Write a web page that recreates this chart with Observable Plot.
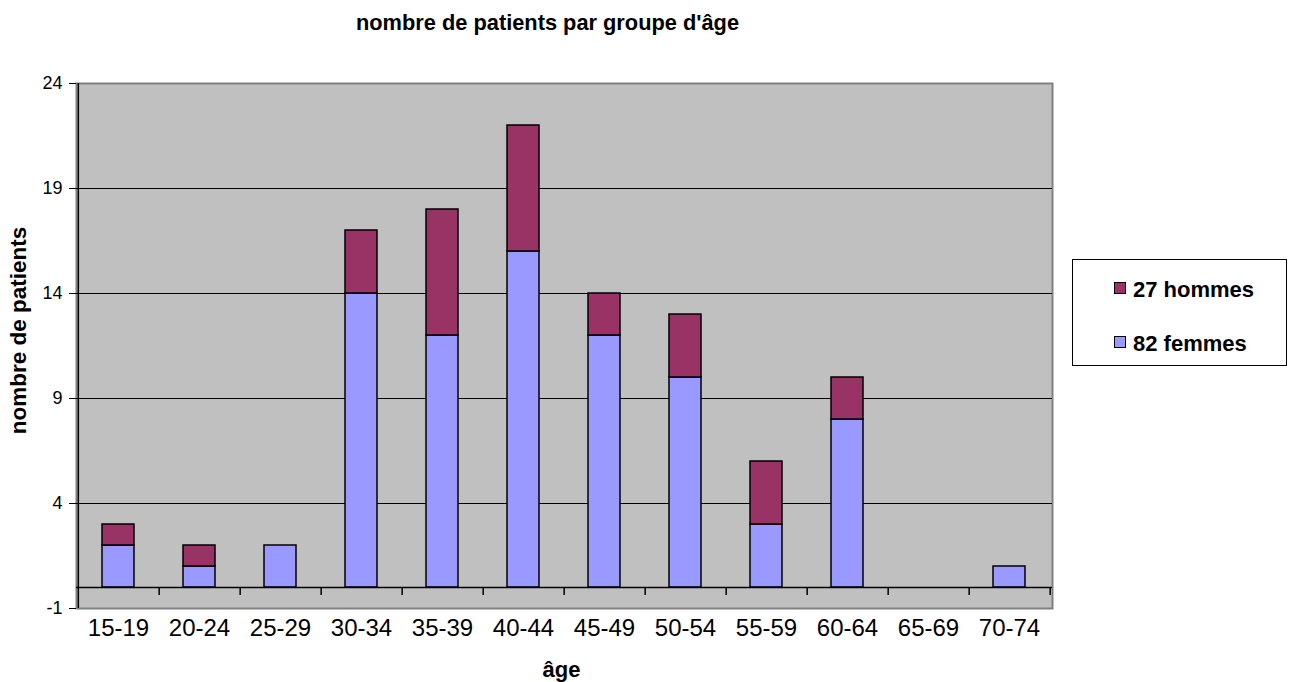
<!DOCTYPE html>
<html>
<head>
<meta charset="utf-8">
<script src="https://cdn.jsdelivr.net/npm/d3@7"></script>
<script src="https://cdn.jsdelivr.net/npm/@observablehq/plot@0.6"></script>
<style>
  body { margin: 0; background: #fff; font-family: "Liberation Sans", Arial, sans-serif; }
  #wrap { position: relative; width: 1295px; height: 682px; }
  #title { position: absolute; left: 0; width: 1095px; top: 10px; text-align: center; font-weight: bold; font-size: 21.8px; line-height: 25px; color: #000; white-space: nowrap; }
  #legendbox { position: absolute; left: 1072px; top: 259px; width: 213px; height: 105px; border: 1.5px solid #000; background: #fff; }
  .lt { position: absolute; left: 1133px; font-weight: bold; font-size: 22px; line-height: 25px; color: #000; white-space: nowrap; }
  .sw { position: absolute; left: 1114px; width: 10px; height: 10px; border: 1.5px solid #000; }
</style>
</head>
<body>
<div id="wrap">
  <div id="title">nombre de patients par groupe d'âge</div>
  <div id="chart"></div>
  <div id="legendbox"></div>
</div>
<script>
const categories = ["15-19","20-24","25-29","30-34","35-39","40-44","45-49","50-54","55-59","60-64","65-69","70-74"];
const femmes = [2, 1, 2, 14, 12, 16, 12, 10, 3, 8, 0, 1];
const hommes = [1, 1, 0, 3, 6, 6, 2, 3, 3, 2, 0, 0];
const seriesNames = ["82 femmes", "27 hommes"];
const seriesColors = ["#9999FF", "#993366"];
const yTicks = [-1, 4, 9, 14, 19, 24];

const rows = [];
categories.forEach((c, i) => rows.push({age: c, serie: seriesNames[0], n: femmes[i]}));
categories.forEach((c, i) => rows.push({age: c, serie: seriesNames[1], n: hommes[i]}));

const W = 1295, H = 682;
const mL = 76, mR = 243, mT = 83, mB = 74;
const step = (W - mL - mR) / categories.length;

const chart = Plot.plot({
  width: W,
  height: H,
  marginLeft: mL,
  marginRight: mR,
  marginTop: mT,
  marginBottom: mB,
  style: {fontFamily: "'Liberation Sans', Arial, sans-serif", background: "transparent", color: "#000", overflow: "visible"},
  x: {domain: categories, paddingInner: 0.6, paddingOuter: 0.3, label: null},
  y: {domain: [-1, 24], label: null},
  color: {domain: seriesNames, range: seriesColors},
  marks: [
    Plot.frame({fill: "#C0C0C0", stroke: "#808080", strokeWidth: 2}),
    Plot.gridY(yTicks.filter(t => t > -1 && t < 24), {stroke: "#000", strokeOpacity: 1, strokeWidth: 1}),
    Plot.barY(rows.filter(d => d.n > 0), Plot.stackY({x: "age", y: "n", fill: "serie", z: "serie", order: seriesNames, stroke: "#000", strokeWidth: 1.5})),
    Plot.ruleY([0], {stroke: "#000", strokeWidth: 1.5}),
    Plot.ruleX(categories, {x: d => d, y1: 0, y2: 0, dx: step / 2, insetBottom: -8, stroke: "#000", strokeWidth: 1.5}),
    Plot.axisY({ticks: yTicks, tickFormat: d => String(d), tickSize: 7, tickPadding: 7, fontSize: 18, label: null, stroke: "#000"}),
    Plot.ruleX([categories[0]], {dx: -step / 2 + 0.5, stroke: "#000", strokeWidth: 1.5}),
    Plot.axisX({tickSize: 0, tickPadding: 10, fontSize: 24, label: null}),
    Plot.text(["nombre de patients"], {frameAnchor: "left", textAnchor: "middle", dx: -58, dy: -15.5, rotate: -90, fontWeight: "bold", fontSize: 22.5, text: d => d}),
    Plot.text(["âge"], {frameAnchor: "bottom", dy: 68, dx: -3, fontWeight: "bold", fontSize: 22, text: d => d})
  ]
});
document.getElementById("chart").appendChild(chart);

const wrap = document.getElementById("wrap");
[[1, 277, 282], [0, 331, 336]].forEach(([i, top, swTop]) => {
  const sw = document.createElement("div");
  sw.className = "sw";
  sw.style.top = swTop + "px";
  sw.style.background = seriesColors[i];
  wrap.appendChild(sw);
  const el = document.createElement("div");
  el.className = "lt";
  el.style.top = top + "px";
  el.textContent = seriesNames[i];
  wrap.appendChild(el);
});
</script>
</body>
</html>
